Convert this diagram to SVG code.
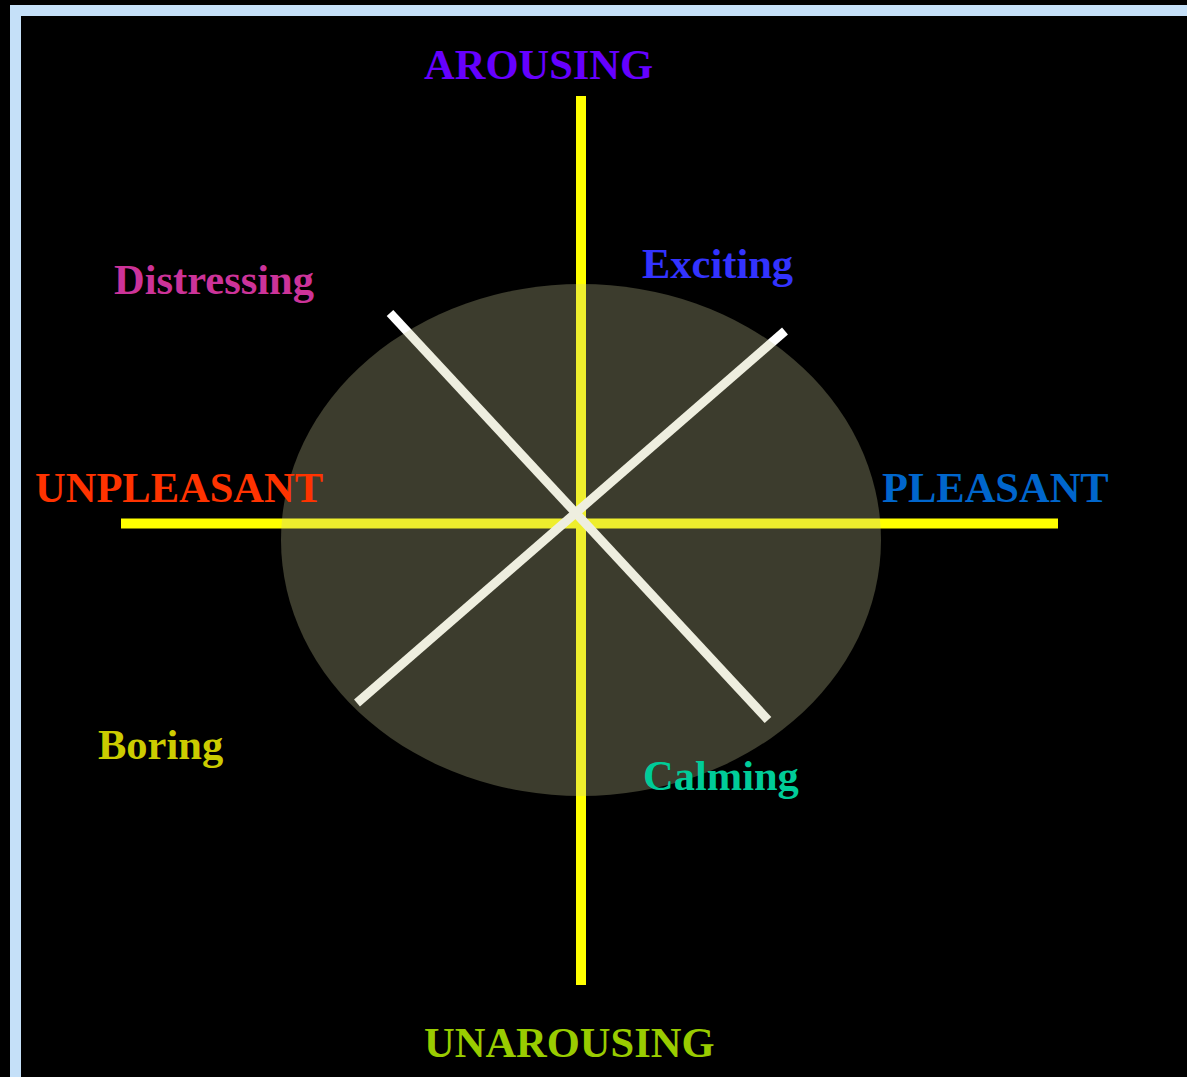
<svg xmlns="http://www.w3.org/2000/svg" width="1187" height="1077" viewBox="0 0 1187 1077">
<style>
.lbl{font-family:"Liberation Serif","Times New Roman",serif;font-weight:bold;font-size:42.5px}
.axis{stroke:#ffff00;stroke-width:10}
.diag{stroke:#ffffff;stroke-width:9}
</style>
<rect x="0" y="0" width="1187" height="1077" fill="#000"/>
<rect x="15.5" y="10.5" width="1200" height="1100" fill="none" stroke="#c5e0f8" stroke-width="11"/>
<g id="connectors">
<line class="axis" x1="581" y1="96" x2="581" y2="985"/>
<line class="axis" x1="121" y1="523.5" x2="1058" y2="523.5"/>
<line class="diag" x1="390" y1="313" x2="768" y2="720"/>
<line class="diag" x1="785" y1="331" x2="357" y2="703"/>
</g>
<ellipse id="circle" cx="581" cy="540" rx="300" ry="256" fill="#c8c896" fill-opacity="0.3"/>
<g id="arousing"><text class="lbl" x="424" y="79" fill="#6600ff">AROUSING</text></g>
<g id="distressing"><text class="lbl" x="114" y="294" fill="#cc3399">Distressing</text></g>
<g id="exciting"><text class="lbl" x="642" y="278" fill="#3333ff">Exciting</text></g>
<g id="unpleasant"><text class="lbl" x="35" y="502" fill="#ff3300">UNPLEASANT</text></g>
<g id="pleasant"><text class="lbl" x="882" y="502" fill="#0066cc">PLEASANT</text></g>
<g id="boring"><text class="lbl" x="98" y="759" fill="#cccc00">Boring</text></g>
<g id="calming"><text class="lbl" x="643" y="790" fill="#00cc99">Calming</text></g>
<g id="unarousing"><text class="lbl" x="424" y="1057" fill="#99cc00">UNAROUSING</text></g>
</svg>
